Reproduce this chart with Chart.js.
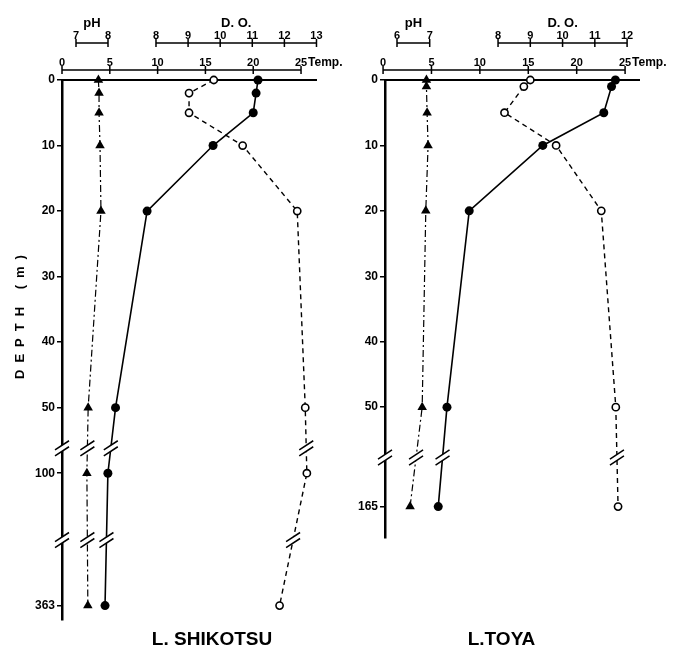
<!DOCTYPE html>
<html>
<head>
<meta charset="utf-8">
<script src="https://cdn.jsdelivr.net/npm/chart.js@4/dist/chart.umd.min.js"></script>
<style>
html,body{margin:0;padding:0;background:#fff;}
#wrap{position:relative;width:679px;height:651px;overflow:hidden;background:#fff;}
#c1{position:absolute;left:0;top:0;}
#c2{position:absolute;left:340px;top:0;}
</style>
</head>
<body>
<div id="wrap">
<canvas id="c1" width="370" height="651"></canvas>
<canvas id="c2" width="339" height="651"></canvas>
</div>
<script>
// ---------- data ----------
const shikotsuDepths = [0, 2, 5, 10, 20, 50, 100, 363];
const shikotsuTemp   = [20.5, 20.3, 20.0, 15.8, 8.9, 5.6, 4.8, 4.5];
const shikotsuDO     = [9.8, 9.03, 9.03, 10.7, 12.4, 12.65, 12.7, 11.85];
const shikotsuPH     = [7.7, 7.72, 7.72, 7.75, 7.78, 7.38, 7.34, 7.37];

const toyaDepths = [0, 1, 5, 10, 20, 50, 165];
const toyaTemp   = [24.0, 23.6, 22.8, 16.5, 8.9, 6.6, 5.7];
const toyaDO     = [9.0, 8.8, 8.2, 9.8, 11.2, 11.65, 11.72];
const toyaPH     = [6.9, 6.9, 6.92, 6.95, 6.88, 6.77, 6.4];

// ---------- tick labels ----------
const shikotsuDepthTicks = [0, 10, 20, 30, 40, 50, 100, 363];
const toyaDepthTicks     = [0, 10, 20, 30, 40, 50, 165];
const tempTicks          = [0, 5, 10, 15, 20, 25];
const shikotsuPHTicks    = [7, 8];
const toyaPHTicks        = [6, 7];
const shikotsuDOTicks    = [8, 9, 10, 11, 12, 13];
const toyaDOTicks        = [8, 9, 10, 11, 12];

const FONT = '"Liberation Sans", Arial, Helvetica, sans-serif';

// broken depth axis: 0-50 m drawn to scale, deeper labelled depths placed in compressed slots
function depthToAxis(d, ax) {
  if (d <= ax.linearTo) return d;
  let prevD = ax.linearTo, prevP = ax.linearTo;
  for (const [sd, sp] of ax.slots) {
    if (d <= sd) return prevP + (d - prevD) / (sd - prevD) * (sp - prevP);
    prevD = sd; prevP = sp;
  }
  return prevP;
}

const panels = [
  {
    canvas: 'c1', name: 'L. SHIKOTSU',
    depths: shikotsuDepths, temp: shikotsuTemp, dox: shikotsuDO, ph: shikotsuPH,
    depthTicks: shikotsuDepthTicks, phTicks: shikotsuPHTicks, doTicks: shikotsuDOTicks,
    axis: { linearTo: 50, slots: [[100, 60], [363, 80.2]], breaks: [56.2, 70.2], max: 82.4 },
    ranges: { temp: [0, 26.67], ph: [6.5625, 14.53], dox: [5.072, 13.016] },
    yWidth: 62, pad: { top: 80, right: 53, bottom: 31, left: 0 },
    nameX: 212, depthTitle: true
  },
  {
    canvas: 'c2', name: 'L.TOYA',
    depths: toyaDepths, temp: toyaTemp, dox: toyaDO, ph: toyaPH,
    depthTicks: toyaDepthTicks, phTicks: toyaPHTicks, doTicks: toyaDOTicks,
    axis: { linearTo: 50, slots: [[165, 65.2]], breaks: [57.7], max: 70 },
    ranges: { temp: [0.2, 26.54], ph: [5.633, 13.43], dox: [4.496, 12.40] },
    yWidth: 45, pad: { top: 80, right: 39, bottom: 113, left: 0 },
    nameX: 161.5, depthTitle: false
  }
];

function drawTopAxis(ctx, scale, ticks, yLine, title) {
  const xs = ticks.map(t => scale.getPixelForValue(t));
  ctx.lineWidth = 1.5;
  ctx.beginPath();
  ctx.moveTo(xs[0], yLine); ctx.lineTo(xs[xs.length - 1], yLine);
  xs.forEach(x => { ctx.moveTo(x, yLine - 4); ctx.lineTo(x, yLine + 4); });
  ctx.stroke();
  ctx.font = 'bold 11px ' + FONT;
  ctx.textAlign = 'center'; ctx.textBaseline = 'alphabetic';
  ticks.forEach((t, i) => ctx.fillText(String(t), xs[i], yLine - 4));
  if (title) {
    ctx.font = 'bold 13px ' + FONT;
    ctx.fillText(title, (xs[0] + xs[xs.length - 1]) / 2, 27);
  }
  return xs;
}

function drawBreak(ctx, x, y) {
  const hx = 7, s = 0.65, g = 3;
  ctx.save();
  ctx.translate(x, y);
  ctx.fillStyle = '#fff';
  ctx.beginPath();
  ctx.moveTo(-hx, -g + hx * s); ctx.lineTo(hx, -g - hx * s);
  ctx.lineTo(hx, g - hx * s); ctx.lineTo(-hx, g + hx * s);
  ctx.closePath(); ctx.fill();
  ctx.strokeStyle = '#000'; ctx.lineWidth = 1.5;
  ctx.beginPath();
  ctx.moveTo(-hx, -g + hx * s); ctx.lineTo(hx, -g - hx * s);
  ctx.moveTo(-hx, g + hx * s); ctx.lineTo(hx, g - hx * s);
  ctx.stroke();
  ctx.restore();
}

const deco = {
  id: 'deco',
  beforeDatasetsDraw(chart) {
    const ctx = chart.ctx, ca = chart.chartArea;
    const y0 = chart.scales.y.getPixelForValue(0);
    ctx.save();
    ctx.strokeStyle = '#000'; ctx.lineWidth = 2;
    ctx.beginPath(); ctx.moveTo(ca.left, y0); ctx.lineTo(ca.right, y0); ctx.stroke();
    ctx.restore();
  },
  afterDraw(chart, args, o) {
    const p = o.panel, ctx = chart.ctx, S = chart.scales, ca = chart.chartArea;
    ctx.save();
    ctx.fillStyle = '#000'; ctx.strokeStyle = '#000';
    drawTopAxis(ctx, S.xph, p.phTicks, 43, 'pH');
    drawTopAxis(ctx, S.xdo, p.doTicks, 43, 'D. O.');
    const tx = drawTopAxis(ctx, S.x, tempTicks, 70, null);
    ctx.font = 'bold 12px ' + FONT; ctx.textAlign = 'left';
    ctx.fillText('Temp.', tx[tx.length - 1] + 7, 66);

    // axis & series breaks
    p.axis.breaks.forEach(b => {
      const yb = S.y.getPixelForValue(b);
      drawBreak(ctx, ca.left, yb);
      chart.data.datasets.forEach((ds, i) => {
        const pts = chart.getDatasetMeta(i).data;
        for (let k = 0; k < pts.length - 1; k++) {
          const a = pts[k], c = pts[k + 1];
          if (a.y <= yb && c.y >= yb) {
            const x = a.x + (c.x - a.x) * (yb - a.y) / (c.y - a.y);
            drawBreak(ctx, x, yb);
            break;
          }
        }
      });
    });

    // depth title
    if (p.depthTitle) {
      ctx.save();
      ctx.translate(20, 317); ctx.rotate(-Math.PI / 2);
      ctx.font = 'bold 13px ' + FONT; ctx.textAlign = 'left'; ctx.textBaseline = 'middle';
      const txt = 'DEPTH (m)'.split(''); const sp = 7;
      const ws = txt.map(ch => ctx.measureText(ch).width);
      const total = ws.reduce((a, b) => a + b, 0) + sp * (txt.length - 1);
      let x = -total / 2;
      txt.forEach((ch, i) => { ctx.fillText(ch, x, 0); x += ws[i] + sp; });
      ctx.restore();
    }

    // lake name
    ctx.font = 'bold 19px ' + FONT; ctx.textAlign = 'center'; ctx.textBaseline = 'middle';
    ctx.fillText(p.name, p.nameX, 640);
    ctx.restore();
  }
};

function makeChart(p) {
  const pos = d => depthToAxis(d, p.axis);
  const pts = vals => vals.map((v, i) => ({ x: v, y: pos(p.depths[i]) }));
  new Chart(document.getElementById(p.canvas), {
    type: 'scatter',
    data: {
      datasets: [
        { label: 'Temp.', data: pts(p.temp), xAxisID: 'x', showLine: true, tension: 0,
          borderColor: '#000', borderWidth: 1.6, pointStyle: 'circle', pointRadius: 4.5,
          pointBackgroundColor: '#000', pointBorderColor: '#000', pointBorderWidth: 0, clip: false },
        { label: 'D. O.', data: pts(p.dox), xAxisID: 'xdo', showLine: true, tension: 0,
          borderColor: '#000', borderWidth: 1.4, borderDash: [5, 4], pointStyle: 'circle', pointRadius: 3.6,
          pointBackgroundColor: '#fff', pointBorderColor: '#000', pointBorderWidth: 1.6, clip: false },
        { label: 'pH', data: pts(p.ph), xAxisID: 'xph', showLine: true, tension: 0,
          borderColor: '#000', borderWidth: 1.2, borderDash: [7, 3, 2, 3], pointStyle: 'triangle', pointRadius: 5.5,
          pointBackgroundColor: '#000', pointBorderColor: '#000', pointBorderWidth: 0, clip: false }
      ]
    },
    options: {
      responsive: false, animation: false, events: [],
      layout: { padding: p.pad },
      plugins: { legend: { display: false }, tooltip: { enabled: false }, deco: { panel: p } },
      scales: {
        x:   { type: 'linear', axis: 'x', min: p.ranges.temp[0], max: p.ranges.temp[1], display: false },
        xdo: { type: 'linear', axis: 'x', min: p.ranges.dox[0],  max: p.ranges.dox[1],  display: false },
        xph: { type: 'linear', axis: 'x', min: p.ranges.ph[0],   max: p.ranges.ph[1],   display: false },
        y: {
          type: 'linear', reverse: true, min: 0, max: p.axis.max,
          afterFit: s => { s.width = p.yWidth; },
          afterBuildTicks: s => { s.ticks = p.depthTicks.map(d => ({ value: pos(d) })); },
          ticks: {
            autoSkip: false, color: '#000', padding: 2,
            font: { family: FONT, weight: 'bold', size: 12 },
            callback: v => {
              const i = p.depthTicks.findIndex(d => Math.abs(pos(d) - v) < 1e-6);
              return i >= 0 ? String(p.depthTicks[i]) : '';
            }
          },
          grid: { drawOnChartArea: false, drawTicks: true, tickLength: 5, color: '#000', lineWidth: 1.5 },
          border: { display: true, color: '#000', width: 2.5 }
        }
      }
    },
    plugins: [deco]
  });
}

panels.forEach(makeChart);
</script>
</body>
</html>
